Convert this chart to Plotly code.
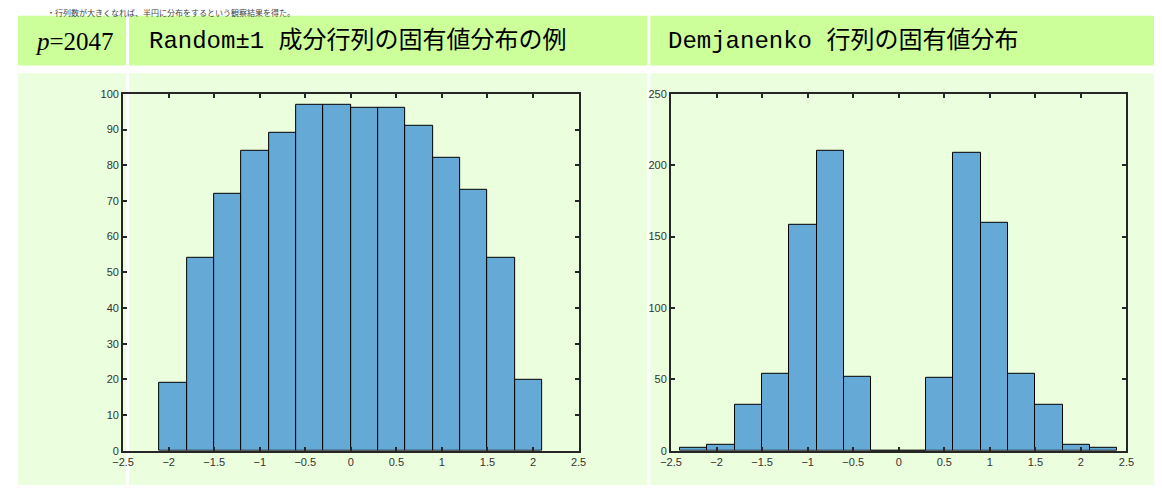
import plotly.graph_objects as go

# ---- data ----
bin_width = 0.3
left_centers = [-1.95, -1.65, -1.35, -1.05, -0.75, -0.45, -0.15, 0.15, 0.45, 0.75, 1.05, 1.35, 1.65, 1.95]
left_counts = [19, 54, 72, 84, 89, 97, 97, 96, 96, 91, 82, 73, 54, 20]

right_centers = [-2.25, -1.95, -1.65, -1.35, -1.05, -0.75, -0.45, -0.15,
                 0.15, 0.45, 0.75, 1.05, 1.35, 1.65, 1.95, 2.25]
right_counts = [2, 4, 32, 54, 158, 210, 52, 0, 0, 51, 209, 160, 54, 32, 4, 2]

x_ticks = [-2.5, -2, -1.5, -1, -0.5, 0, 0.5, 1, 1.5, 2, 2.5]
x_tick_labels = ["−2.5", "−2", "−1.5", "−1", "−0.5", "0", "0.5", "1", "1.5", "2", "2.5"]
left_y_ticks = [0, 10, 20, 30, 40, 50, 60, 70, 80, 90, 100]
right_y_ticks = [0, 50, 100, 150, 200, 250]

header_p = "<i>p</i>=2047"
title_left = "Random±1 成分行列の固有値分布の例"
title_right = "Demjanenko 行列の固有値分布"
top_line = "・行列数が大きくなれば、半円に分布をするという観察結果を得た。"

# ---- style ----
W, H = 1162, 491
BAR = "#65A9D7"
AX = "#262626"
HEAD = "#CCFF99"
PALE = "#EBFEDD"

def px(x):
    return x / W

def py(y):
    return 1 - y / H

fig = go.Figure()
fig.add_trace(go.Bar(x=left_centers, y=left_counts, width=bin_width,
                     marker=dict(color=BAR, line=dict(color="#000000", width=1)),
                     xaxis="x", yaxis="y", showlegend=False, hoverinfo="skip"))
fig.add_trace(go.Bar(x=right_centers, y=right_counts, width=bin_width,
                     marker=dict(color=BAR, line=dict(color="#000000", width=1)),
                     xaxis="x2", yaxis="y2", showlegend=False, hoverinfo="skip"))

shapes = []
cols = [(7, 117), (120, 647), (650, 1162)]
for (a, b) in cols:
    shapes.append(dict(type="rect", xref="paper", yref="paper", x0=px(a), x1=px(b),
                       y0=py(61), y1=py(10), fillcolor=HEAD, line=dict(width=0), layer="below"))
    shapes.append(dict(type="rect", xref="paper", yref="paper", x0=px(a), x1=px(b),
                       y0=py(491), y1=py(69), fillcolor=PALE, line=dict(width=0), layer="below"))

tickfont = dict(family="Liberation Sans, Arial, sans-serif", size=11, color="#333333")
axis_common = dict(showline=True, linecolor=AX, linewidth=2, mirror="ticks",
                   ticks="inside", ticklen=4, tickwidth=1.5, tickcolor=AX,
                   showgrid=False, zeroline=False, tickfont=tickfont, fixedrange=True)

fig.update_layout(
    width=W, height=H, margin=dict(l=0, r=0, t=0, b=0),
    paper_bgcolor="white", plot_bgcolor="white",
    bargap=0, shapes=shapes,
    xaxis=dict(domain=[px(114), px(577)], range=[-2.5, 2.5], tickvals=x_ticks,
               ticktext=x_tick_labels, anchor="y", **axis_common),
    yaxis=dict(domain=[py(456), py(90)], range=[0, 100], tickvals=left_y_ticks,
               anchor="x", **axis_common),
    xaxis2=dict(domain=[px(671), px(1134)], range=[-2.5, 2.5], tickvals=x_ticks,
                ticktext=x_tick_labels, anchor="y2", **axis_common),
    yaxis2=dict(domain=[py(456), py(90)], range=[0, 250], tickvals=right_y_ticks,
                anchor="x2", **axis_common),
    annotations=[
        dict(text=top_line, xref="paper", yref="paper", x=px(36), y=1,
             xanchor="left", yanchor="top", showarrow=False, borderpad=0,
             font=dict(family="Noto Sans CJK JP", size=8, color="#444444")),
        dict(text=header_p, xref="paper", yref="paper", x=px(22), y=py(36),
             xanchor="left", yanchor="middle", showarrow=False,
             font=dict(family="Liberation Serif, serif", size=25, color="#000000")),
        dict(text=title_left, xref="paper", yref="paper", x=px(138), y=py(36),
             xanchor="left", yanchor="middle", showarrow=False,
             font=dict(family="Liberation Mono, Noto Sans CJK JP", size=24, color="#000000")),
        dict(text=title_right, xref="paper", yref="paper", x=px(666), y=py(36),
             xanchor="left", yanchor="middle", showarrow=False,
             font=dict(family="Liberation Mono, Noto Sans CJK JP", size=24, color="#000000")),
    ],
)

fig.write_html(
    "out.html",
    post_script="document.documentElement.style.margin='0';document.body.style.margin='0';",
)
